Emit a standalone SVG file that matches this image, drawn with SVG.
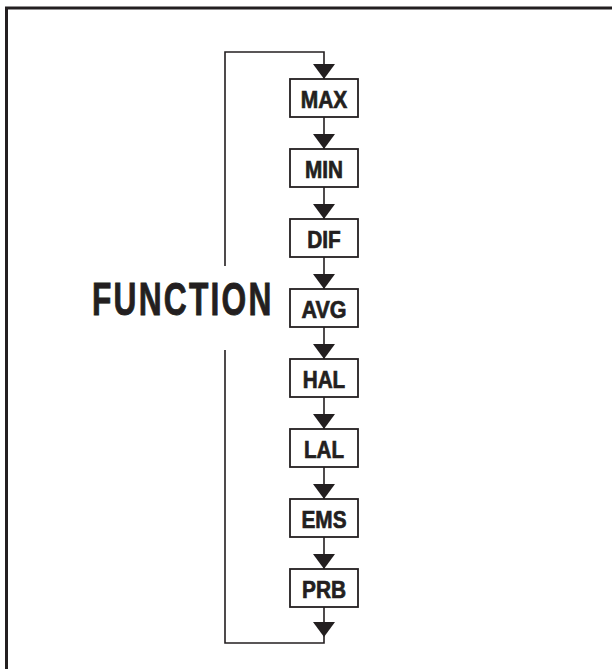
<svg xmlns="http://www.w3.org/2000/svg" width="612" height="669" viewBox="0 0 612 669">
<style>
.frame{fill:none;stroke:#231f20;stroke-width:3}
.ln{fill:none;stroke:#231f20;stroke-width:1.6}
.box rect{fill:#fff;stroke:#231f20;stroke-width:1.8}
.box text{font-family:"Liberation Sans",Arial,sans-serif;font-weight:bold;font-size:24px;fill:#231f20;stroke:#231f20;stroke-width:0.7;text-anchor:middle}
.ah{fill:#231f20}
.title{font-family:"Liberation Sans",Arial,sans-serif;font-weight:bold;font-size:46px;letter-spacing:3.2px;fill:#231f20;stroke:#231f20;stroke-width:0.9}
</style>
<defs>
<polygon id="tri" points="-11,-15 11,-15 0,0"/>
</defs>
<path class="frame" d="M6.5,669 V8 H612"/>
<g id="connectors">
<path class="ln" d="M225,266 V52 H324 V79"/>
<path class="ln" d="M225,350 V643 H324 V607"/>
<path class="ln" d="M324,117 V149 M324,187 V219 M324,257 V289 M324,327 V359 M324,397 V429 M324,467 V499 M324,537 V569"/>
<g class="ah">
<use href="#tri" x="324" y="79"/>
<use href="#tri" x="324" y="149"/>
<use href="#tri" x="324" y="219"/>
<use href="#tri" x="324" y="289"/>
<use href="#tri" x="324" y="359"/>
<use href="#tri" x="324" y="429"/>
<use href="#tri" x="324" y="499"/>
<use href="#tri" x="324" y="569"/>
<use href="#tri" x="324" y="637"/>
</g>
</g>
<g id="function-label"><text class="title" transform="translate(92,314.5) scale(0.69,1)" x="0" y="0">FUNCTION</text></g>
<g id="max" class="box"><rect x="290" y="79" width="68" height="38"/><text x="324" y="108" textLength="46.5" lengthAdjust="spacingAndGlyphs">MAX</text></g>
<g id="min" class="box"><rect x="290" y="149" width="68" height="38"/><text x="324" y="178" textLength="38" lengthAdjust="spacingAndGlyphs">MIN</text></g>
<g id="dif" class="box"><rect x="290" y="219" width="68" height="38"/><text x="324" y="248" textLength="33.5" lengthAdjust="spacingAndGlyphs">DIF</text></g>
<g id="avg" class="box"><rect x="290" y="289" width="68" height="38"/><text x="324" y="318" textLength="45" lengthAdjust="spacingAndGlyphs">AVG</text></g>
<g id="hal" class="box"><rect x="290" y="359" width="68" height="38"/><text x="324" y="388" textLength="42.5" lengthAdjust="spacingAndGlyphs">HAL</text></g>
<g id="lal" class="box"><rect x="290" y="429" width="68" height="38"/><text x="324" y="458" textLength="40" lengthAdjust="spacingAndGlyphs">LAL</text></g>
<g id="ems" class="box"><rect x="290" y="499" width="68" height="38"/><text x="324" y="528" textLength="45" lengthAdjust="spacingAndGlyphs">EMS</text></g>
<g id="prb" class="box"><rect x="290" y="569" width="68" height="38"/><text x="324" y="598" textLength="44" lengthAdjust="spacingAndGlyphs">PRB</text></g>
</svg>
